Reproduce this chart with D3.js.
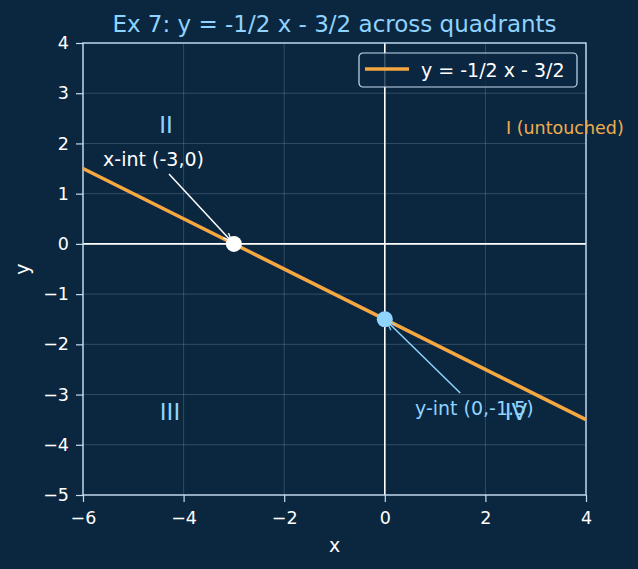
<!DOCTYPE html>
<html>
<head>
<meta charset="utf-8">
<script src="https://cdn.jsdelivr.net/npm/d3@7"></script>
<style>
  body { margin: 0; background: #0b2740; }
  svg { display: block; font-family: "DejaVu Sans", sans-serif; }
</style>
</head>
<body>
<svg id="chart" width="638" height="569"></svg>
<script>
// data
const xTicks = [-6, -4, -2, 0, 2, 4];
const yTicks = [-5, -4, -3, -2, -1, 0, 1, 2, 3, 4];
const lineX = [-6, 4];
const lineY = [1.5, -3.5];
const points = [
  { x: -3, y: 0, color: '#ffffff' },
  { x: 0, y: -1.5, color: '#8fd3fe' }
];
const quadLabels = [
  { text: 'II', x: -4.35, y: 2.37, color: '#8fd3fe', size: 23 },
  { text: 'III', x: -4.27, y: -3.34, color: '#8fd3fe', size: 23 },
  { text: 'IV', x: 2.61, y: -3.34, color: '#8fd3fe', size: 23 },
  { text: 'I (untouched)', x: 3.58, y: 2.31, color: '#f0ad4e', size: 17.5 }
];
const notes = [
  { text: 'x-int (-3,0)', tx: -5.6, ty: 1.55, ax: -4.29, ay: 1.39, px: -3, py: 0, color: '#ffffff' },
  { text: 'y-int (0,-1.5)', tx: 0.6, ty: -3.41, ax: 1.5, ay: -2.97, px: 0, py: -1.5, color: '#8fd3fe' }
];

const svg = d3.select('#chart');
const pL = 83, pR = 586, pT = 43, pB = 495;
const x = d3.scaleLinear().domain([-6, 4]).range([pL, pR]);
const y = d3.scaleLinear().domain([-5, 4]).range([pB, pT]);
const spine = '#c6dcf0';

svg.append('rect').attr('width', 638).attr('height', 569).attr('fill', '#0b2740');

svg.append('text')
  .attr('x', (pL + pR) / 2).attr('y', 32)
  .attr('text-anchor', 'middle')
  .style('font-size', '23px')
  .attr('fill', '#8fd3fe')
  .text('Ex 7: y = -1/2 x - 3/2 across quadrants');

// grid
const grid = svg.append('g').attr('stroke', '#c6dcf0').attr('stroke-opacity', 0.25).attr('stroke-width', 0.8);
grid.selectAll('line.gx').data(xTicks).enter().append('line')
  .attr('x1', d => x(d)).attr('x2', d => x(d)).attr('y1', pT).attr('y2', pB);
grid.selectAll('line.gy').data(yTicks).enter().append('line')
  .attr('y1', d => y(d)).attr('y2', d => y(d)).attr('x1', pL).attr('x2', pR);

// axes through origin
svg.append('line').attr('x1', pL).attr('x2', pR).attr('y1', y(0)).attr('y2', y(0))
  .attr('stroke', '#ffffff').attr('stroke-width', 1.6);
svg.append('line').attr('x1', x(0)).attr('x2', x(0)).attr('y1', pT).attr('y2', pB)
  .attr('stroke', '#ffffff').attr('stroke-width', 1.6);

// frame
svg.append('rect').attr('x', pL).attr('y', pT).attr('width', pR - pL).attr('height', pB - pT)
  .attr('fill', 'none').attr('stroke', spine).attr('stroke-width', 1.4);

const fmt = d => d < 0 ? '\u2212' + Math.abs(d) : d;
const xAxis = svg.append('g').attr('transform', `translate(0,${pB})`)
  .call(d3.axisBottom(x).tickValues(xTicks).tickSize(7).tickPadding(10).tickFormat(fmt));
const yAxis = svg.append('g').attr('transform', `translate(${pL},0)`)
  .call(d3.axisLeft(y).tickValues(yTicks).tickSize(7).tickPadding(7).tickFormat(fmt));
[xAxis, yAxis].forEach(g => {
  g.select('.domain').remove();
  g.selectAll('line').attr('stroke', spine).attr('stroke-width', 1.2);
  g.selectAll('text').attr('fill', '#ffffff').style('font-size', '17.5px').style('font-family', '"DejaVu Sans", sans-serif');
});

svg.append('text').attr('x', (pL + pR) / 2).attr('y', 552).attr('text-anchor', 'middle')
  .attr('fill', '#ffffff').style('font-size', '19px').text('x');
svg.append('text').attr('transform', `translate(29,${(pT + pB) / 2}) rotate(-90)`).attr('text-anchor', 'middle')
  .attr('fill', '#ffffff').style('font-size', '19px').text('y');

// main line
svg.append('path')
  .datum(lineX.map((d, i) => [d, lineY[i]]))
  .attr('d', d3.line().x(d => x(d[0])).y(d => y(d[1])))
  .attr('fill', 'none').attr('stroke', '#f5a742').attr('stroke-width', 3.5);

// quadrant labels
svg.selectAll('text.quad').data(quadLabels).enter().append('text')
  .attr('class', 'quad')
  .attr('x', d => x(d.x)).attr('y', d => y(d.y))
  .attr('text-anchor', 'middle').attr('dominant-baseline', 'central')
  .attr('fill', d => d.color).style('font-size', d => d.size + 'px')
  .text(d => d.text);

// arrow heads
const defs = svg.append('defs');
notes.forEach((n, i) => {
  defs.append('marker').attr('id', 'arr' + i).attr('viewBox', '0 0 10 10')
    .attr('refX', 10).attr('refY', 5).attr('markerWidth', 9).attr('markerHeight', 9)
    .attr('orient', 'auto-start-reverse').attr('markerUnits', 'userSpaceOnUse')
    .append('path').attr('d', 'M0,1 L10,5 L0,9').attr('fill', 'none').attr('stroke', n.color).attr('stroke-width', 1.4);
});

// points
svg.selectAll('circle.pt').data(points).enter().append('circle')
  .attr('cx', d => x(d.x)).attr('cy', d => y(d.y)).attr('r', 8)
  .attr('fill', d => d.color);

// annotations
notes.forEach((n, i) => {
  const x1 = x(n.ax), y1 = y(n.ay), x2 = x(n.px), y2 = y(n.py);
  const len = Math.hypot(x2 - x1, y2 - y1);
  const s = (len - 3) / len;
  svg.append('line')
    .attr('x1', x1).attr('y1', y1)
    .attr('x2', x1 + (x2 - x1) * s).attr('y2', y1 + (y2 - y1) * s)
    .attr('stroke', n.color).attr('stroke-width', 1.5)
    .attr('marker-end', `url(#arr${i})`);
  svg.append('text').attr('x', x(n.tx)).attr('y', y(n.ty))
    .attr('fill', n.color).style('font-size', '19px').text(n.text);
});

// legend
const lg = svg.append('g').attr('transform', 'translate(359,53)');
lg.append('rect').attr('width', 218).attr('height', 34).attr('rx', 4)
  .attr('fill', '#0b2740').attr('fill-opacity', 0.8).attr('stroke', '#c6dcf0').attr('stroke-width', 1.2);
lg.append('line').attr('x1', 6).attr('x2', 50).attr('y1', 16).attr('y2', 16)
  .attr('stroke', '#f5a742').attr('stroke-width', 3.5);
lg.append('text').attr('x', 62).attr('y', 24).attr('fill', '#ffffff').style('font-size', '19px')
  .text('y = -1/2 x - 3/2');
</script>
</body>
</html>
